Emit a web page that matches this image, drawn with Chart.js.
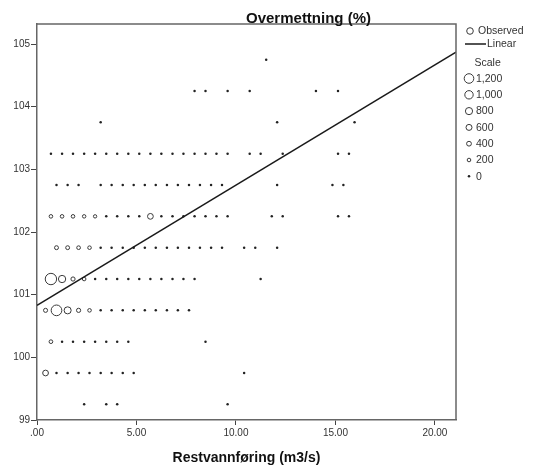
<!DOCTYPE html>
<html><head><meta charset="utf-8">
<script src="https://cdn.jsdelivr.net/npm/chart.js@4/dist/chart.umd.min.js"></script>
<style>html,body{margin:0;padding:0;background:#fff;overflow:hidden}canvas{display:block}</style>
</head><body>
<canvas id="c" width="542" height="468" style="width:542px;height:468px"></canvas>
<script>
const chartTitle = 'Overmettning (%)';
const xTitle = 'Restvannføring (m3/s)';
const xTicks = [0, 5, 10, 15, 20];
const xTickLabels = ['.00', '5.00', '10.00', '15.00', '20.00'];
const yTicks = [99, 100, 101, 102, 103, 104, 105];
const xRange = [0, 21.06];
const yRange = [99, 105.32];

// Binned observations: one y level per row, x bin centres and counts per row
const rowY = [99.25, 99.75, 100.25, 100.75, 101.25, 101.75, 102.25, 102.75, 103.25, 103.75, 104.25, 104.75];
const rowX = [
  [2.37, 3.48, 4.03, 9.58],
  [0.43, 0.98, 1.54, 2.09, 2.64, 3.20, 3.75, 4.31, 4.86, 10.41],
  [0.70, 1.26, 1.81, 2.37, 2.92, 3.48, 4.03, 4.59, 8.47],
  [0.43, 0.98, 1.54, 2.09, 2.64, 3.20, 3.75, 4.31, 4.86, 5.42, 5.97, 6.53, 7.08, 7.64],
  [0.70, 1.26, 1.81, 2.37, 2.92, 3.48, 4.03, 4.59, 5.14, 5.70, 6.25, 6.81, 7.36, 7.92, 11.24],
  [0.98, 1.54, 2.09, 2.64, 3.20, 3.75, 4.31, 4.86, 5.42, 5.97, 6.53, 7.08, 7.64, 8.19, 8.75, 9.30, 10.41, 10.97, 12.07],
  [0.70, 1.26, 1.81, 2.37, 2.92, 3.48, 4.03, 4.59, 5.14, 5.70, 6.25, 6.81, 7.36, 7.92, 8.47, 9.02, 9.58, 11.80, 12.35, 15.13, 15.68],
  [0.98, 1.54, 2.09, 3.20, 3.75, 4.31, 4.86, 5.42, 5.97, 6.53, 7.08, 7.64, 8.19, 8.75, 9.30, 12.07, 14.85, 15.40],
  [0.70, 1.26, 1.81, 2.37, 2.92, 3.48, 4.03, 4.59, 5.14, 5.70, 6.25, 6.81, 7.36, 7.92, 8.47, 9.02, 9.58, 10.69, 11.24, 12.35, 15.13, 15.68],
  [3.20, 12.07, 15.96],
  [7.92, 8.47, 9.58, 10.69, 14.02, 15.13],
  [11.52]
];
const rowCount = [
  [20, 20, 20, 10],
  [560, 60, 50, 50, 40, 40, 30, 30, 30, 10],
  [220, 60, 50, 40, 40, 30, 30, 30, 10],
  [280, 1380, 780, 300, 200, 80, 60, 50, 40, 40, 30, 30, 30, 20],
  [1500, 820, 300, 200, 80, 60, 50, 50, 40, 40, 30, 30, 30, 20, 10],
  [260, 250, 220, 200, 90, 70, 60, 60, 80, 50, 40, 40, 30, 30, 20, 20, 10, 10, 10],
  [200, 200, 200, 180, 160, 70, 60, 60, 60, 560, 90, 50, 40, 30, 30, 20, 20, 10, 10, 10, 10],
  [30, 30, 30, 30, 30, 30, 30, 30, 30, 20, 20, 20, 20, 20, 20, 10, 10, 10],
  [30, 30, 30, 30, 30, 30, 30, 30, 30, 30, 20, 20, 20, 20, 20, 20, 20, 10, 10, 10, 10, 10],
  [10, 10, 10],
  [10, 10, 10, 10, 10, 10],
  [10]
];
// Linear fit end points
const lineX = [0, 21.06];
const lineY = [100.83, 104.87];
// Size legend
const scaleValues = [1200, 1000, 800, 600, 400, 200, 0];
const scaleLabels = ['1,200', '1,000', '800', '600', '400', '200', '0'];

const FONT = '"Liberation Sans", Arial, Helvetica, sans-serif';
const MARK = '#3a3a3a';
const DOT_LIMIT = 150;
const DOT_R = 1.25;
const rad = v => 1.2 + 0.003 * v;

const points = [];
rowY.forEach((y, i) => rowX[i].forEach((x, j) => points.push({ x: x, y: y, n: rowCount[i][j] })));
const linePts = lineX.map((x, i) => ({ x: x, y: lineY[i] }));

const decor = {
  id: 'decor',
  afterDraw(chart) {
    const c = chart.ctx, a = chart.chartArea;
    c.save();
    // frame top & right
    c.strokeStyle = '#666'; c.lineWidth = 1.5;
    c.beginPath();
    c.moveTo(a.left, a.top); c.lineTo(a.right, a.top); c.lineTo(a.right, a.bottom);
    c.stroke();
    // titles
    c.fillStyle = '#111';
    c.textAlign = 'center'; c.textBaseline = 'alphabetic';
    c.font = 'bold 15px ' + FONT;
    c.fillText(chartTitle, a.left + (a.right - a.left) * 0.648, a.top - 1.5);
    c.font = 'bold 14px ' + FONT;
    c.fillText(xTitle, (a.left + a.right) / 2, 461.5);
    // legend
    const lx = a.right + 13;
    c.font = '10.5px ' + FONT;
    c.fillStyle = '#333';
    c.textAlign = 'left'; c.textBaseline = 'middle';
    c.strokeStyle = MARK; c.lineWidth = 1;
    c.beginPath(); c.arc(lx + 1, 31, rad(700), 0, Math.PI * 2); c.stroke();
    c.fillText('Observed', lx + 9, 31);
    c.strokeStyle = '#1a1a1a'; c.lineWidth = 1.5;
    c.beginPath(); c.moveTo(lx - 4, 44); c.lineTo(lx + 17, 44); c.stroke();
    c.fillText('Linear', lx + 18, 44.5);
    c.fillText('Scale', lx + 5.5, 63);
    scaleValues.forEach((v, i) => {
      const yy = 78.5 + i * 16.3;
      if (v < DOT_LIMIT) {
        c.fillStyle = '#222';
        c.beginPath(); c.arc(lx, yy, DOT_R, 0, Math.PI * 2); c.fill();
      } else {
        c.strokeStyle = MARK; c.lineWidth = 1;
        c.beginPath(); c.arc(lx, yy, rad(v), 0, Math.PI * 2); c.stroke();
      }
      c.fillStyle = '#333';
      c.fillText(scaleLabels[i], lx + 7, yy + 0.5);
    });
    c.restore();
  }
};

new Chart(document.getElementById('c'), {
  data: {
    datasets: [
      {
        type: 'scatter', label: 'Observed', data: points, order: 2,
        pointRadius: ctx => (ctx.raw && ctx.raw.n >= DOT_LIMIT) ? rad(ctx.raw.n) : DOT_R,
        pointHoverRadius: ctx => (ctx.raw && ctx.raw.n >= DOT_LIMIT) ? rad(ctx.raw.n) : DOT_R,
        pointBorderWidth: ctx => (ctx.raw && ctx.raw.n >= DOT_LIMIT) ? 1 : 0,
        pointBorderColor: MARK,
        pointBackgroundColor: ctx => (ctx.raw && ctx.raw.n >= DOT_LIMIT) ? 'rgba(0,0,0,0)' : '#222'
      },
      {
        type: 'line', label: 'Linear', data: linePts, order: 1,
        borderColor: '#1a1a1a', borderWidth: 1.5, pointRadius: 0, fill: false, tension: 0
      }
    ]
  },
  options: {
    responsive: false, animation: false, devicePixelRatio: 1,
    layout: { padding: { top: 24, right: 86, left: 0, bottom: 0 } },
    plugins: { legend: { display: false }, title: { display: false }, tooltip: { enabled: false } },
    events: [],
    scales: {
      x: {
        type: 'linear', position: 'bottom', min: xRange[0], max: xRange[1],
        afterFit: s => { s.height = 48; },
        afterBuildTicks: s => { s.ticks = xTicks.map(v => ({ value: v })); },
        ticks: {
          callback: (v, i) => xTickLabels[i], autoSkip: false, maxRotation: 0,
          font: { family: FONT, size: 10 }, color: '#333', padding: 2
        },
        grid: { display: true, drawOnChartArea: false, drawTicks: true, tickLength: 5, color: '#444', lineWidth: 1 },
        border: { display: true, color: '#666', width: 1.5 }
      },
      y: {
        type: 'linear', position: 'left', min: yRange[0], max: yRange[1],
        afterFit: s => { s.width = 37; },
        afterBuildTicks: s => { s.ticks = yTicks.map(v => ({ value: v })); },
        ticks: {
          callback: (v, i) => String(yTicks[i]), autoSkip: false,
          font: { family: FONT, size: 10 }, color: '#333', padding: 1
        },
        grid: { display: true, drawOnChartArea: false, drawTicks: true, tickLength: 6, color: '#444', lineWidth: 1 },
        border: { display: true, color: '#666', width: 1.5 }
      }
    }
  },
  plugins: [decor]
});
</script>
</body></html>
